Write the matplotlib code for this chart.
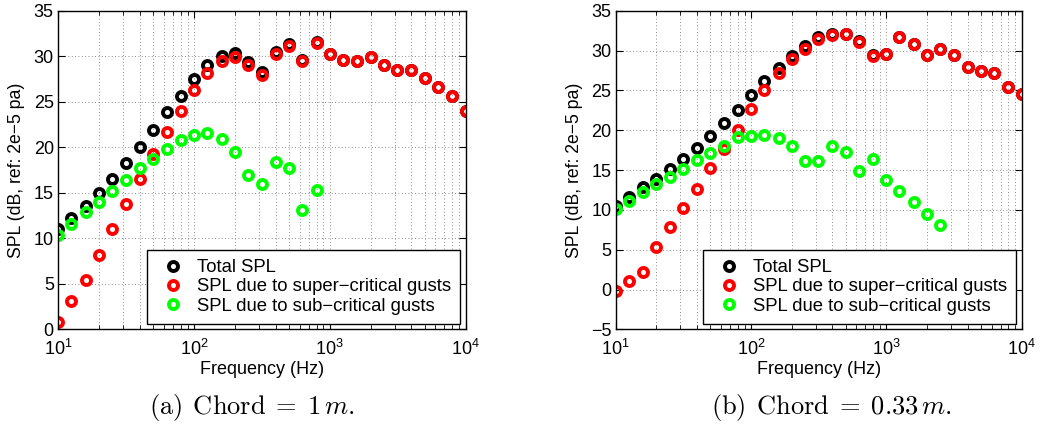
import numpy as np
import matplotlib
matplotlib.use("Agg")
import matplotlib.pyplot as plt
from matplotlib.ticker import LogLocator, MultipleLocator, NullFormatter

plt.rcParams['font.family'] = ['Liberation Sans', 'DejaVu Sans']
plt.rcParams['mathtext.fontset'] = 'custom'
plt.rcParams['mathtext.rm'] = 'Liberation Sans'
plt.rcParams['mathtext.it'] = 'Liberation Sans:italic'

# third-octave band centre frequencies (Hz)
freq = [10, 12.5, 16, 20, 25, 31.5, 40, 50, 63, 80, 100, 125, 160, 200, 250,
        315, 400, 500, 630, 800, 1000, 1250, 1600, 2000, 2500, 3150, 4000,
        5000, 6300, 8000, 10000]

# (a) chord = 1 m
total_a = [11.0, 12.25, 13.57, 15.04, 16.54, 18.27, 20.07, 21.9, 23.84, 25.68,
           27.51, 29.02, 30.08, 30.34, 29.35, 28.32, 30.5, 31.33, 29.55, 31.55,
           30.26, 29.6, 29.5, 29.9, 29.05, 28.5, 28.5, 27.66, 26.67, 25.64, 24.03]
super_a = [0.8, 3.1, 5.4, 8.14, 11.08, 13.76, 16.47, 19.22, 21.64, 24.03,
           26.3, 28.14, 29.53, 29.9, 29.05, 27.95, 30.23, 31.18, 29.5, 31.51,
           30.26, 29.6, 29.5, 29.9, 29.05, 28.5, 28.5, 27.66, 26.67, 25.64, 24.03]
sub_a = [10.42, 11.63, 12.88, 14.01, 15.19, 16.4, 17.68, 18.67, 19.77, 20.8,
         21.35, 21.6, 20.87, 19.52, 16.95, 15.96, 18.34, 17.76, 13.17, 15.3]

# (b) chord = 0.33 m
total_b = [10.55, 11.68, 12.82, 13.9, 15.13, 16.39, 17.77, 19.33, 20.92, 22.6,
           24.37, 26.13, 27.86, 29.33, 30.6, 31.64, 32.14, 32.14, 31.2, 29.5,
           29.6, 31.7, 30.8, 29.4, 30.17, 29.45, 27.94, 27.44, 27.23, 25.42, 24.6]
super_b = [-0.2, 1.05, 2.23, 5.38, 7.9, 10.3, 12.6, 15.25, 17.69, 20.08,
           22.73, 25.04, 27.14, 28.9, 30.25, 31.43, 31.97, 32.06, 31.13, 29.33,
           29.6, 31.7, 30.8, 29.4, 30.17, 29.45, 27.94, 27.44, 27.23, 25.42, 24.6]
sub_b = [10.08, 11.18, 12.23, 13.24, 14.12, 15.13, 16.3, 17.14, 18.07, 19.12,
         19.33, 19.45, 19.03, 18.07, 16.2, 16.2, 18.07, 17.27, 14.83, 16.43,
         13.78, 12.4, 11.05, 9.45, 8.1]

labels = ["Total SPL", "SPL due to super\u2212critical gusts",
          "SPL due to sub\u2212critical gusts"]
colors = ["#000000", "#ff0000", "#00ff00"]
captions = [r"$\mathrm{(a)\;\,Chord}\;=\;1\,m.$", r"$\mathrm{(b)\;\,Chord}\;=\;0.33\,m.$"]


def draw(ax, series, ylim):
    for (y, lab, c) in zip(series, labels, colors):
        ax.semilogx(freq[:len(y)], y, linestyle='none', marker='o',
                    markersize=6.5, markeredgewidth=2.8, markerfacecolor='none',
                    markeredgecolor=c, label=lab)
    ax.set_xlim(10, 10000)
    ax.set_ylim(*ylim)
    ax.yaxis.set_major_locator(MultipleLocator(5))
    ax.xaxis.set_major_locator(LogLocator(base=10, numticks=10))
    ax.xaxis.set_minor_locator(LogLocator(base=10, subs=np.arange(2, 10), numticks=20))
    ax.xaxis.set_minor_formatter(NullFormatter())
    ax.tick_params(which='both', direction='in', top=True, right=True, labelsize=13)
    ax.tick_params(which='major', length=5, width=0.8)
    ax.tick_params(which='minor', length=3, width=0.6)
    ax.tick_params(axis='x', which='major', pad=7)
    ax.tick_params(axis='y', which='major', pad=3)
    ax.grid(True, which='major', axis='both', linestyle=(0, (1, 3)), color='0.4', linewidth=0.6)
    ax.grid(True, which='minor', axis='x', linestyle=(0, (1, 3)), color='0.4', linewidth=0.6)
    for s in ax.spines.values():
        s.set_linewidth(1.0)
    ax.set_xlabel("Frequency (Hz)", fontsize=13, labelpad=1)
    ax.set_ylabel("SPL (dB, ref: 2e\u22125 pa)", fontsize=12.7)
    ax.yaxis.set_label_coords(-0.08, 0.5)
    leg = ax.legend(loc='lower right', numpoints=1, fontsize=13.3, fancybox=False,
                    edgecolor='black', framealpha=1, handlelength=1.8,
                    handletextpad=0.4, borderaxespad=0.3, labelspacing=0.12,
                    borderpad=0.5)
    leg.get_frame().set_linewidth(1.0)


fig = plt.figure(figsize=(10.41, 4.29), dpi=100)
ax1 = fig.add_axes([0.0557, 0.232, 0.3915, 0.743])
ax2 = fig.add_axes([0.5915, 0.232, 0.3898, 0.743])

draw(ax1, [total_a, super_a, sub_a], (0, 35))
draw(ax2, [total_b, super_b, sub_b], (-5, 35))

fig.text(0.242, 0.049, captions[0], ha='center', va='center', fontsize=19, math_fontfamily='cm')
fig.text(0.799, 0.049, captions[1], ha='center', va='center', fontsize=19, math_fontfamily='cm')

fig.savefig("out.png", dpi=100)
